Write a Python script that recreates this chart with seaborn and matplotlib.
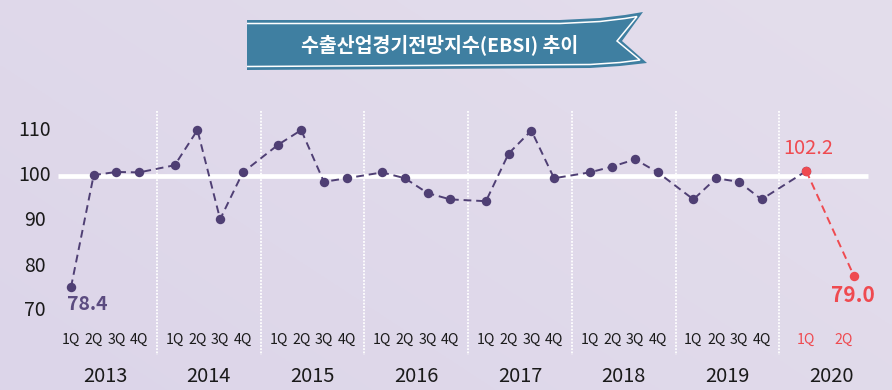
import matplotlib
matplotlib.use("Agg")
import matplotlib.pyplot as plt
from matplotlib.patches import Polygon
import numpy as np
import pandas as pd
import seaborn as sns

sns.set_theme(style="white")
plt.rcParams["font.family"] = ["Noto Sans CJK KR", "DejaVu Sans"]

# data (plotted heights; label texts as printed)
years = ["2013", "2014", "2015", "2016", "2017", "2018", "2019", "2020"]
quarters = ["1Q", "2Q", "3Q", "4Q"]
ebsi = [
    75.3, 100.2, 100.9, 100.8,
    102.4, 110.2, 90.4, 100.8,
    107.0, 110.2, 98.7, 99.5,
    100.8, 99.5, 96.2, 94.8,
    94.4, 105.0, 110.1, 99.5,
    100.8, 102.1, 103.7, 100.8,
    94.8, 99.5, 98.7, 94.8,
    101.1, 77.8,
]
first_label = "78.4"
last_labels = ["102.2", "79.0"]
title = "수출산업경기전망지수(EBSI) 추이"

PURPLE = "#4f3f74"
RED = "#ef4a50"
BANNER = "#3f7fa1"

# layout: quarter slots with a gap between years, wider spacing for 2020
YEAR_W = 4.57
xs, qlab_x = [], []
for yi, y in enumerate(years):
    offs = [0, 1, 2, 3] if y != "2020" else [0.4, 2.5]
    loffs = [0, 1, 2, 3] if y != "2020" else [0.4, 2.05]
    xs += [yi * YEAR_W + o for o in offs]
    qlab_x += [(yi * YEAR_W + o, q, y) for o, q in zip(loffs, quarters)]

df = pd.DataFrame({"x": xs, "ebsi": ebsi})

W, H = 892, 390
fig = plt.figure(figsize=(W / 100, H / 100), dpi=100)
ax = fig.add_axes([0, 0, 1, 1])
PX_X, PX_Y = 22.7, 4.5  # pixels per x unit / per index point
x0 = -71 / PX_X
ax.set_xlim(x0, x0 + W / PX_X)
ytop = 110 + 131 / PX_Y
ax.set_ylim(ytop - H / PX_Y, ytop)
ax.axis("off")

# soft lavender gradient background
g = np.linspace(0, 1, 256)
gx, gy = np.meshgrid(g, g)
c0 = np.array([220, 213, 233]) / 255
c1 = np.array([228, 222, 236]) / 255
t = (gx * 0.6 + (1 - gy) * 0.4)[..., None]
ax.imshow(c0 * (1 - t) + c1 * t, extent=(*ax.get_xlim(), *ax.get_ylim()),
          aspect="auto", zorder=0, origin="upper")

def ay(px):
    return 1 - px / H

btr = ax.get_xaxis_transform()

# year separators
for yi in range(len(years) - 1):
    sx = yi * YEAR_W + 3 + (YEAR_W - 3) / 2
    ax.plot([sx, sx], [ay(111), ay(355)], transform=btr, color="white",
            lw=1.3, ls=(0, (1, 0.8)), zorder=1)

# reference line at 100
ax.hlines(100, -0.57, xs[-1] + 0.6, color="white", lw=3.4, zorder=2)

# series
main = df.iloc[:-1]
sns.lineplot(data=main, x="x", y="ebsi", ax=ax, color=PURPLE, lw=1.4,
             linestyle=(0, (4, 2.5)), marker="o", markersize=6.8,
             markeredgewidth=0, zorder=3)
sns.lineplot(data=df.iloc[-2:], x="x", y="ebsi", ax=ax, color=RED, lw=1.4,
             linestyle=(0, (4, 2.5)), marker="o", markersize=6.8,
             markeredgewidth=0, zorder=4)

# y tick labels
for v in [70, 80, 90, 100, 110]:
    ax.text(-36 / PX_X, v, str(v), ha="center", va="center", fontsize=14,
            color="#1a1a1a")

# quarter and year labels
for qx, q, y in qlab_x:
    ax.text(qx, ay(340), q, transform=btr, ha="center", va="center",
            fontsize=10.2, color=RED if y == "2020" else "#1a1a1a")
for yi, y in enumerate(years):
    ax.text(yi * YEAR_W + 1.5, ay(376), y, transform=btr, ha="center",
            va="center", fontsize=14.4, color="#1a1a1a")

# value labels
ax.text(xs[0] + 0.72, ay(304), first_label, transform=btr, ha="center",
        va="center", fontsize=14, fontweight="bold", color="#5b4b80")
ax.text(xs[-2] + 0.1, ay(148), last_labels[0], transform=btr, ha="center",
        va="center", fontsize=14.4, color=RED)
ax.text(xs[-1] - 0.05, ay(295), last_labels[1], transform=btr, ha="center",
        va="center", fontsize=15, fontweight="bold", color=RED)

# ribbon banner title
def fpts(pts):
    return [(x / W, 1 - y / H) for x, y in pts]

outer = [(247, 20), (560, 20), (600, 18), (625, 15), (643, 12), (622, 41),
         (647, 63), (620, 66), (590, 68), (247, 70)]
inner = [(247, 23.5), (560, 23.5), (600, 21.5), (625, 18.5), (637, 16.5),
         (617, 41), (640, 60), (620, 62.5), (590, 64.5), (247, 66.5)]
fig.patches.append(Polygon(fpts(outer), closed=True, transform=fig.transFigure,
                           facecolor=BANNER, edgecolor="none", zorder=5))
fig.patches.append(Polygon(fpts(inner), closed=False, transform=fig.transFigure,
                           facecolor="none", edgecolor="white", lw=1.1, zorder=6))
fig.text(440 / W, 1 - 45 / H, title, ha="center", va="center", fontsize=14,
         fontweight="bold", color="white", zorder=7)

fig.savefig("out.png", dpi=100)
plt.close(fig)
